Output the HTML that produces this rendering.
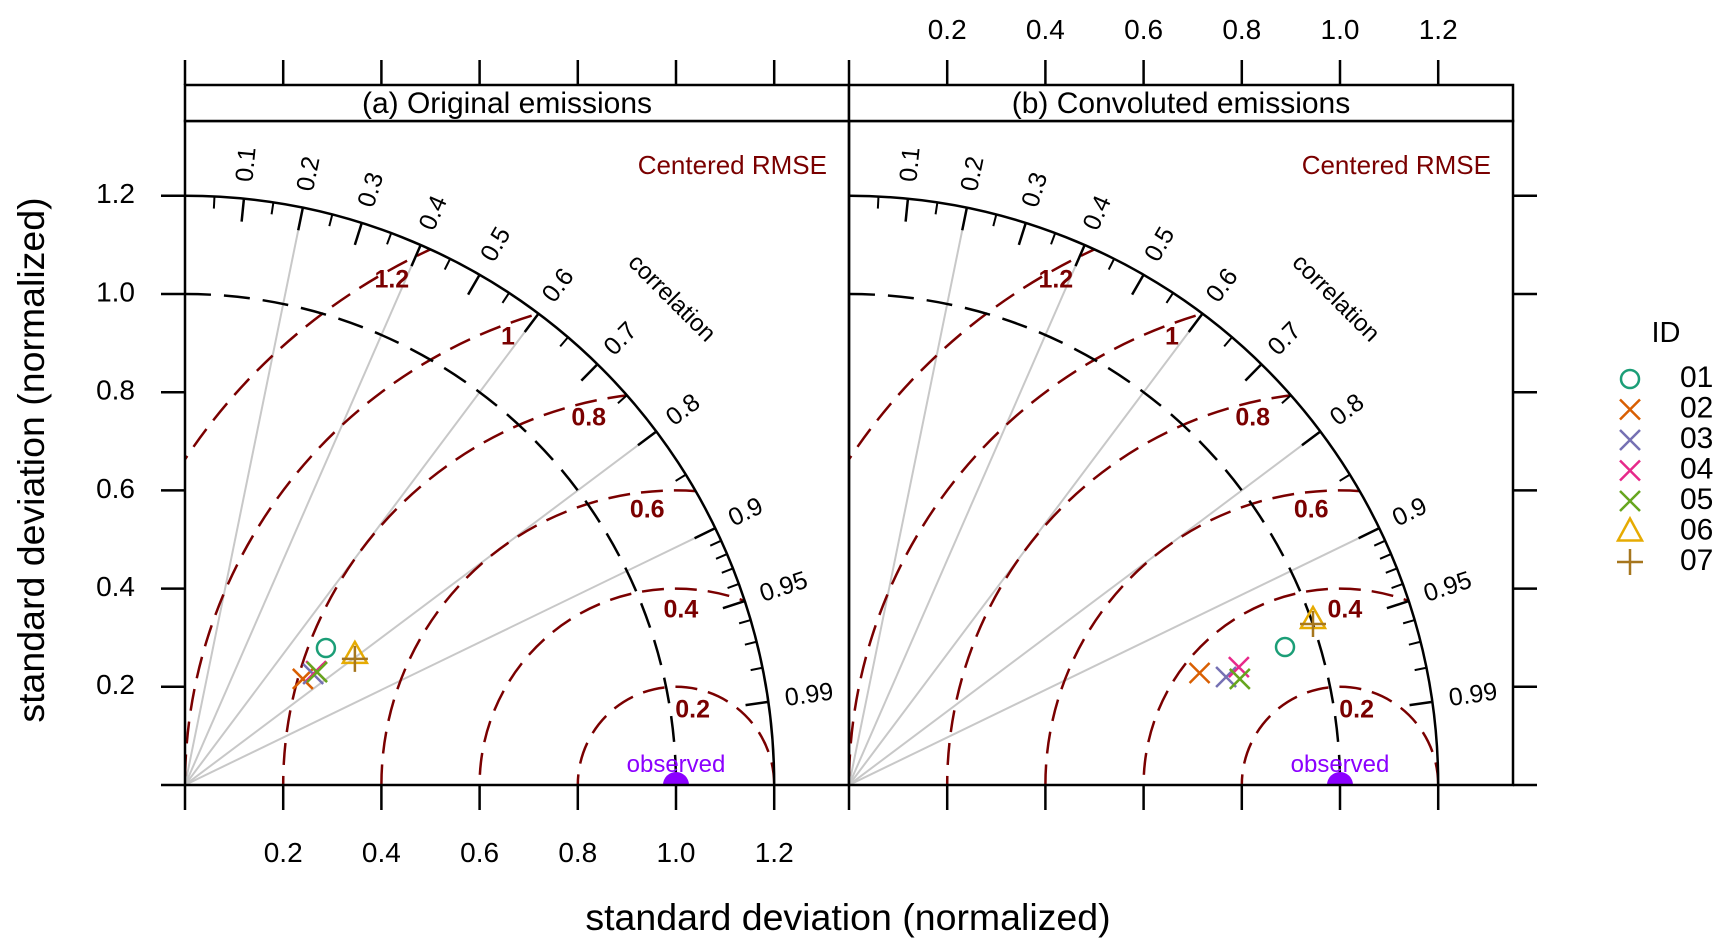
<!DOCTYPE html>
<html><head><meta charset="utf-8"><style>
html,body{margin:0;padding:0;background:#fff;overflow:hidden;width:1729px;height:949px;}
svg{display:block;font-family:"Liberation Sans",sans-serif;}
</style></head><body>
<svg id="chart" width="1729" height="949" viewBox="0 0 1729 949" xmlns="http://www.w3.org/2000/svg">
<defs>
<clipPath id="qd"><path d="M0,0 L589,0 A589,589 0 0 0 0,-589 Z"/></clipPath>
</defs>
<g id="root"></g>
</svg>
<script>
const panelTitles = ["(a)  Original emissions", "(b)  Convoluted emissions"];
const seriesIds = ["01","02","03","04","05","06","07"];
const seriesColors = ["#1b9e77","#d95f02","#7570b3","#e7298a","#66a61e","#e6ab02","#a6761d"];
const seriesShapes = ["circle","x","x","x","x","triangle","plus"];
const sdA = [0.287,0.240,0.261,0.267,0.269,0.346,0.346];
const yA  = [0.279,0.216,0.226,0.232,0.230,0.261,0.257];
const sdB = [0.888,0.714,0.768,0.794,0.796,0.945,0.945];
const yB  = [0.281,0.228,0.220,0.240,0.216,0.332,0.328];
const sdTicks = [0.2,0.4,0.6,0.8,1.0,1.2];
const sdTickLabels = ["0.2","0.4","0.6","0.8","1.0","1.2"];
const corrMajor = [0.1,0.2,0.3,0.4,0.5,0.6,0.7,0.8,0.9,0.95,0.99];
const corrMajorLabels = ["0.1","0.2","0.3","0.4","0.5","0.6","0.7","0.8","0.9","0.95","0.99"];
const corrMinor = [0.05,0.15,0.25,0.35,0.45,0.55,0.65,0.75,0.85,0.91,0.92,0.93,0.94,0.96,0.97,0.98];
const corrLines = [0.2,0.4,0.6,0.8,0.9];
const rmseLevels = [0.2,0.4,0.6,0.8,1,1.2];
const rmseLabels = ["0.2","0.4","0.6","0.8","1","1.2"];
const rmseLabelAng = [12.6,1.6,-6,-13.4,-20.6,-29.4];

const NS="http://www.w3.org/2000/svg";
const U=491, BY=785, TOP=121, STRIP=85, PW=664;
const root=document.getElementById('root');
function mk(tag,attrs,parent){const e=document.createElementNS(NS,tag);for(const k in attrs)e.setAttribute(k,attrs[k]);(parent||root).appendChild(e);return e;}
function txt(s,attrs,parent){const e=mk('text',attrs,parent);e.textContent=s;return e;}

const origins=[185,849];
const datasets=[[sdA,yA],[sdB,yB]];
origins.forEach((ox,pi)=>{
  const g=mk('g',{});
  
  
  const X=v=>ox+v*U, Y=v=>BY-v*U;
  const pg=mk('g',{transform:`translate(${ox},${BY})`},g);
  const cg=mk('g',{'clip-path':'url(#qd)'},pg);
  corrLines.forEach(c=>{
    const t=Math.acos(c);
    const l=mk('line',{x1:0,y1:0,x2:1.2*U*Math.cos(t),y2:-1.2*U*Math.sin(t),stroke:'#c8c8c8','stroke-width':2},cg);
    
    
  });
  rmseLevels.forEach((r,i)=>{
    const c=mk('circle',{cx:U,cy:0,r:r*U,fill:'none',stroke:'#7a0000','stroke-width':2.5,'stroke-dasharray':'22 11'},cg);
    
    
    const a=(90-rmseLabelAng[i])*Math.PI/180;
    const rad = r===0.2?0.155:r-0.045+(r-0.4)*0.03;
    const lx=U+rad*U*Math.cos(a), ly=-rad*U*Math.sin(a);
    const t=txt(rmseLabels[i],{x:lx,y:ly,'text-anchor':'middle','dominant-baseline':'middle','font-size':25,'font-weight':'bold',fill:'#7a0000'},pg);
    
    
  });
  const oa=mk('path',{d:`M0,${-U} A${U},${U} 0 0 1 ${U},0`,fill:'none',stroke:'#000','stroke-width':2.5,'stroke-dasharray':'26 13'},pg);
  
  
  const R=1.2*U;
  const ar=mk('path',{d:`M0,${-R} A${R},${R} 0 0 1 ${R},0`,fill:'none',stroke:'#000','stroke-width':2.5},pg);
  
  
  corrMajor.forEach((c,i)=>{
    const t=Math.acos(c), cs=Math.cos(t), sn=Math.sin(t);
    const tk=mk('line',{x1:R*cs,y1:-R*sn,x2:(R-23)*cs,y2:-(R-23)*sn,stroke:'#000','stroke-width':2.5},pg);
    
    
    const lr=R+17;
    const lb=txt(corrMajorLabels[i],{x:0,y:0,'font-size':25,'dominant-baseline':'middle',transform:`translate(${lr*cs},${-lr*sn}) rotate(${-t*180/Math.PI})`},pg);
    
    
  });
  corrMinor.forEach(c=>{
    const t=Math.acos(c), cs=Math.cos(t), sn=Math.sin(t);
    const tk=mk('line',{x1:R*cs,y1:-R*sn,x2:(R-12)*cs,y2:-(R-12)*sn,stroke:'#000','stroke-width':2},pg);
    
    
  });
  const cl=txt('correlation',{x:0,y:0,'font-size':24,'text-anchor':'middle','dominant-baseline':'middle',transform:`translate(${1.40*U*Math.SQRT1_2},${-1.40*U*Math.SQRT1_2}) rotate(45)`},pg);
  
  
  const rm=txt('Centered RMSE',{x:ox+PW-22,y:174,'text-anchor':'end','font-size':26,fill:'#7a0000'},g);
  
  
  const ob=mk('path',{d:`M${U-13},0 A13,13 0 0 1 ${U+13},0 Z`,fill:'#8b00ff'},pg);
  
  
  const ot=txt('observed',{x:U,y:-13,'text-anchor':'middle','font-size':24,fill:'#8b00ff'},pg);
  
  
  const [xs,ys]=datasets[pi];
  xs.forEach((xv,i)=>{
    const px=xv*U, py=-ys[i]*U, col=seriesColors[i], sh=seriesShapes[i];
    let m;
    if(sh==='circle') m=mk('circle',{cx:px,cy:py,r:9,fill:'none',stroke:col,'stroke-width':2.5},pg);
    else if(sh==='x') m=mk('path',{d:`M${px-10},${py-10}L${px+10},${py+10}M${px-10},${py+10}L${px+10},${py-10}`,stroke:col,'stroke-width':2.5},pg);
    else if(sh==='triangle') m=mk('path',{d:`M${px},${py-15}L${px+12},${py+6}L${px-12},${py+6}Z`,fill:'none',stroke:col,'stroke-width':2.5},pg);
    else m=mk('path',{d:`M${px-13},${py}L${px+13},${py}M${px},${py-13}L${px},${py+13}`,stroke:col,'stroke-width':2.5},pg);
    
    
  });
  const fr=mk('rect',{x:ox,y:TOP,width:PW,height:BY-TOP,fill:'none',stroke:'#000','stroke-width':2.5},g);
  
  
  const st=mk('rect',{x:ox,y:STRIP,width:PW,height:TOP-STRIP,fill:'#fff',stroke:'#000','stroke-width':2.5},g);
  
  
  const tt=txt(panelTitles[pi],{x:ox+PW/2-(pi?0:10),y:113,'text-anchor':'middle','font-size':30},g);
  
  
  [0].concat(sdTicks).forEach((v,i)=>{
    const b=mk('line',{x1:X(v),y1:BY,x2:X(v),y2:BY+25,stroke:'#000','stroke-width':2.5},g);
    
    
    const t=mk('line',{x1:X(v),y1:STRIP,x2:X(v),y2:STRIP-25,stroke:'#000','stroke-width':2.5},g);
    
    
    if(i>0){
      if(pi===0){const l=txt(sdTickLabels[i-1],{x:X(v),y:862,'text-anchor':'middle','font-size':28},g);
        }
      else{const l=txt(sdTickLabels[i-1],{x:X(v),y:39,'text-anchor':'middle','font-size':28},g);
        }
    }
  });
  [0].concat(sdTicks).forEach((v,i)=>{
    if(pi===0){
      const t=mk('line',{x1:ox-24,y1:Y(v),x2:ox,y2:Y(v),stroke:'#000','stroke-width':2.5},g);
      
      if(i>0){const l=txt(sdTickLabels[i-1],{x:135,y:Y(v),'text-anchor':'end','dominant-baseline':'middle','font-size':28},g);
        }
    } else {
      const t=mk('line',{x1:ox+PW,y1:Y(v),x2:ox+PW+24,y2:Y(v),stroke:'#000','stroke-width':2.5},g);
      
    }
  });
});
const yt=txt('standard deviation (normalized)',{x:0,y:0,'text-anchor':'middle','dominant-baseline':'middle','font-size':37.5,transform:'translate(34,460) rotate(-90)'});


const xt=txt('standard deviation (normalized)',{x:848,y:930,'text-anchor':'middle','font-size':37.5});


const lg=mk('g',{});


const lt=txt('ID',{x:1666,y:342,'text-anchor':'middle','font-size':29},lg);


seriesIds.forEach((id,i)=>{
  const y=379+i*30.5, x=1630, col=seriesColors[i], sh=seriesShapes[i];
  const eg=mk('g',{},lg);
  
  
  if(sh==='circle') mk('circle',{cx:x,cy:y,r:9,fill:'none',stroke:col,'stroke-width':2.5},eg);
  else if(sh==='x') mk('path',{d:`M${x-10},${y-10}L${x+10},${y+10}M${x-10},${y+10}L${x+10},${y-10}`,stroke:col,'stroke-width':2.5},eg);
  else if(sh==='triangle') mk('path',{d:`M${x},${y-13}L${x+12},${y+9}L${x-12},${y+9}Z`,fill:'none',stroke:col,'stroke-width':2.5},eg);
  else mk('path',{d:`M${x-13},${y}L${x+13},${y}M${x},${y-13}L${x},${y+13}`,stroke:col,'stroke-width':2.5},eg);
  txt(id,{x:1680,y:y,'dominant-baseline':'middle','font-size':30},eg);
});
</script>
</body></html>
